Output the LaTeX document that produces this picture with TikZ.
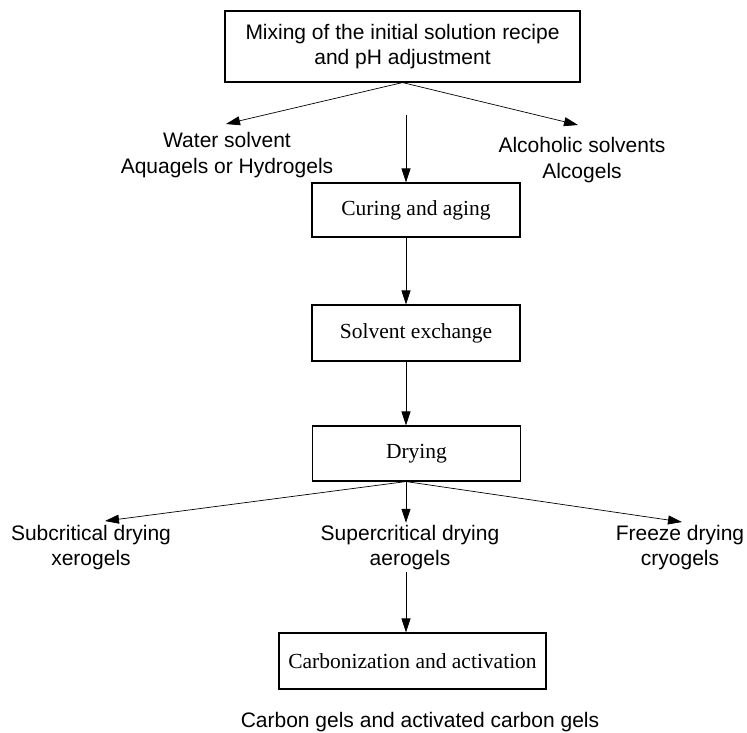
\documentclass[tikz,border=0pt]{standalone}
\usepackage{fontspec}
\newfontfamily\gelfont{Liberation Sans}
\newfontfamily\stagefont{Liberation Serif}
\usetikzlibrary{arrows.meta}

\begin{document}
\begin{tikzpicture}[x=1pt,y=-1pt,
    stage/.style={draw,line width=1.1pt,inner sep=0pt,minimum width=208pt,minimum height=55pt,
      font=\stagefont\fontsize{21.5}{26}\selectfont},
    gel/.style={align=center,inner sep=2pt,font=\gelfont\fontsize{21}{25.5}\selectfont},
    conn/.style={line width=0.7pt,-{Triangle[length=14pt,width=9pt]}}]
  \useasboundingbox (0,0) rectangle (747,732);
  \coordinate (spine) at (406,0);
  % Recipe and the two solvent routes
  \node[stage,gel,minimum width=355pt,minimum height=71pt] (mix) at (402.5,46.5)
    {Mixing of the initial solution recipe\\and pH adjustment};
  \node[gel] (water) at (227,155) {Water solvent\\Aquagels or Hydrogels};
  \node[gel] (alcohol) at (582,160) {Alcoholic solvents\\Alcogels};
  \coordinate (watertip) at (226,124);
  \coordinate (alcoholtip) at (578,125);
  \coordinate (mixdown) at (407,115);
  \draw[conn] (mix.south) -- (watertip);
  \draw[conn] (mix.south) -- (alcoholtip);
  % Gel processing
  \node[stage,minimum height=54pt] (curing) at (416,210) {Curing and aging};
  \node[stage,minimum height=56pt] (solvent) at (416,333) {Solvent exchange};
  \node[stage] (drying) at (416.5,453.5) {Drying};
  \draw[conn] (mixdown -| spine) -- (curing.north -| spine);
  \draw[conn] (curing.south -| spine) -- (solvent.north -| spine);
  \draw[conn] (solvent.south -| spine) -- (drying.north -| spine);
  % Drying routes
  \node[gel] (sub) at (91,547.5) {Subcritical drying\\xerogels};
  \node[gel] (super) at (410,547.5) {Supercritical drying\\aerogels};
  \node[gel] (freeze) at (680,547.5) {Freeze drying\\cryogels};
  \coordinate (subtip) at (105,521);
  \coordinate (freezetip) at (682,522);
  \draw[conn] (drying.south -| spine) -- (subtip);
  \draw[conn] (drying.south -| spine) -- (super.north -| spine);
  \draw[conn] (drying.south -| spine) -- (freezetip);
  % Carbon gels
  \node[stage,minimum width=267pt,minimum height=56pt] (carbon) at (412.5,661) {Carbonization and activation};
  \node[gel] (final) at (420,722) {Carbon gels and activated carbon gels};
  \draw[conn] (super.south -| spine) -- (carbon.north -| spine);
\end{tikzpicture}
\end{document}
